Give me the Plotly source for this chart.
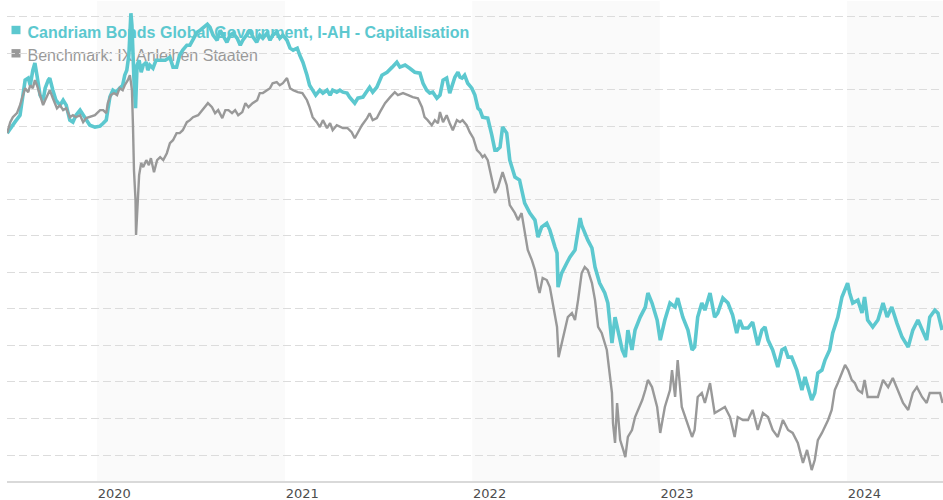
import plotly.graph_objects as go

# ---------------- data (performance, %) ----------------
fund_name = "Candriam Bonds Global Government, I-AH - Capitalisation"
bench_name = "Benchmark: IX Anleihen Staaten"

fund_dates = [
    "2019-07-10", "2019-07-16", "2019-07-25", "2019-08-04", "2019-08-10", "2019-08-14", "2019-08-20",
    "2019-08-24", "2019-08-29", "2019-09-02", "2019-09-06", "2019-09-12", "2019-09-18", "2019-09-22",
    "2019-09-28", "2019-10-01", "2019-10-07", "2019-10-13", "2019-10-21", "2019-10-27", "2019-11-02",
    "2019-11-09", "2019-11-15", "2019-11-21", "2019-11-29", "2019-12-05", "2019-12-11", "2019-12-18",
    "2019-12-28", "2020-01-07", "2020-01-13", "2020-01-19", "2020-01-22", "2020-01-26", "2020-02-01",
    "2020-02-07", "2020-02-14", "2020-02-20", "2020-02-24", "2020-02-28", "2020-03-03", "2020-03-05",
    "2020-03-07", "2020-03-09", "2020-03-11", "2020-03-13", "2020-03-16", "2020-03-17", "2020-03-19",
    "2020-03-23", "2020-03-27", "2020-03-31", "2020-04-06", "2020-04-09", "2020-04-13", "2020-04-19",
    "2020-04-25", "2020-05-03", "2020-05-13", "2020-05-22", "2020-05-28", "2020-06-04", "2020-06-10",
    "2020-06-16", "2020-06-24", "2020-06-30", "2020-07-06", "2020-07-14", "2020-07-20", "2020-07-26",
    "2020-08-03", "2020-08-08", "2020-08-14", "2020-08-22", "2020-08-28", "2020-09-02", "2020-09-10",
    "2020-09-16", "2020-09-22", "2020-09-30", "2020-10-06", "2020-10-11", "2020-10-19", "2020-10-25",
    "2020-10-31", "2020-11-07", "2020-11-13", "2020-11-19", "2020-11-27", "2020-12-03", "2020-12-08",
    "2020-12-16", "2020-12-22", "2020-12-28", "2021-01-05", "2021-01-11", "2021-01-17", "2021-01-25",
    "2021-01-30", "2021-02-05", "2021-02-13", "2021-02-18", "2021-02-24", "2021-03-02", "2021-03-10",
    "2021-03-16", "2021-03-24", "2021-03-30", "2021-04-04", "2021-04-12", "2021-04-18", "2021-04-24",
    "2021-05-02", "2021-05-07", "2021-05-17", "2021-05-23", "2021-06-02", "2021-06-10", "2021-06-15",
    "2021-06-21", "2021-06-29", "2021-07-09", "2021-07-19", "2021-07-29", "2021-08-07", "2021-08-13",
    "2021-08-23", "2021-09-01", "2021-09-11", "2021-09-21", "2021-09-27", "2021-10-04", "2021-10-10",
    "2021-10-16", "2021-10-24", "2021-10-30", "2021-11-05", "2021-11-12", "2021-11-18", "2021-11-28",
    "2021-12-04", "2021-12-08", "2021-12-12", "2021-12-17", "2021-12-23", "2021-12-31", "2022-01-03",
    "2022-01-06", "2022-01-12", "2022-01-16", "2022-01-21", "2022-01-31", "2022-02-08", "2022-02-14",
    "2022-02-18", "2022-02-24", "2022-03-01", "2022-03-09", "2022-03-15", "2022-03-25", "2022-04-03",
    "2022-04-13", "2022-04-23", "2022-05-03", "2022-05-09", "2022-05-16", "2022-05-26", "2022-06-01",
    "2022-06-11", "2022-06-15", "2022-06-17", "2022-06-24", "2022-07-04", "2022-07-10", "2022-07-20",
    "2022-07-30", "2022-08-02", "2022-08-08", "2022-08-14", "2022-08-22", "2022-08-28", "2022-09-06",
    "2022-09-16", "2022-09-22", "2022-09-30", "2022-10-06", "2022-10-12", "2022-10-20", "2022-10-26",
    "2022-10-31", "2022-11-08", "2022-11-14", "2022-11-24", "2022-12-04", "2022-12-09", "2022-12-17",
    "2022-12-27", "2023-01-02", "2023-01-11", "2023-01-21", "2023-01-31", "2023-02-05", "2023-02-15",
    "2023-02-25", "2023-03-05", "2023-03-10", "2023-03-16", "2023-03-24", "2023-03-30", "2023-04-09",
    "2023-04-18", "2023-04-24", "2023-05-04", "2023-05-14", "2023-05-23", "2023-05-31", "2023-06-06",
    "2023-06-12", "2023-06-22", "2023-07-01", "2023-07-11", "2023-07-19", "2023-07-25", "2023-07-31",
    "2023-08-09", "2023-08-19", "2023-08-27", "2023-09-02", "2023-09-08", "2023-09-15", "2023-09-25",
    "2023-10-05", "2023-10-11", "2023-10-17", "2023-10-24", "2023-10-30", "2023-11-05", "2023-11-13",
    "2023-11-19", "2023-11-28", "2023-12-04", "2023-12-14", "2023-12-22", "2024-01-02", "2024-01-06",
    "2024-01-12", "2024-01-22", "2024-01-30", "2024-02-04", "2024-02-10", "2024-02-20", "2024-03-01",
    "2024-03-11", "2024-03-19", "2024-03-28", "2024-04-07", "2024-04-17", "2024-04-29", "2024-05-08",
    "2024-05-18", "2024-05-28", "2024-06-04", "2024-06-10", "2024-06-20", "2024-06-26", "2024-07-04",
]
fund_values = [
    -0.38, -0.11, 0.22, 0.60, 1.70, 2.52, 2.63,
    2.24, 3.06, 3.45, 2.79, 1.70, 1.42, 2.08,
    2.52, 2.63, 1.97, 1.42, 1.15, 1.42, 1.15,
    0.33, 0.22, 0.60, 0.88, 0.60, 0.33, 0.05,
    -0.05, 0.00, 0.16, 0.33, 0.88, 1.59, 1.97,
    1.86, 2.08, 2.24, 2.79, 3.06, 3.88, 5.25,
    6.18, 5.52, 3.61, 2.52, 0.98, 1.97, 3.34,
    3.61, 2.95, 3.34, 3.50, 3.06, 3.34, 3.17,
    3.61, 3.61, 3.61, 3.77, 3.23, 3.23, 3.88,
    4.16, 4.43, 4.43, 4.70, 5.14, 5.25, 5.42,
    5.58, 5.42, 4.98, 4.70, 5.25, 4.98, 4.59,
    4.98, 5.09, 4.81, 4.43, 4.70, 4.98, 5.25,
    4.87, 4.59, 4.98, 4.81, 5.09, 4.70, 4.98,
    5.14, 4.81, 4.98, 4.70, 4.27, 4.16, 4.27,
    3.88, 3.50, 2.79, 2.24, 1.97, 1.70, 1.97,
    1.81, 1.97, 1.70, 1.97, 1.86, 1.97, 1.86,
    1.81, 1.59, 1.26, 1.53, 1.59, 1.97, 2.13,
    1.86, 2.13, 2.79, 2.95, 3.23, 3.50, 3.23,
    3.34, 3.17, 2.95, 2.90, 2.35, 1.97, 1.81,
    1.86, 1.53, 1.70, 2.52, 2.63, 1.81, 2.68,
    2.95, 2.68, 2.63, 2.79, 2.35, 2.08, 1.81,
    1.70, 0.98, 0.88, 0.49, 0.44, -0.49, -1.31,
    -1.31, -1.15, -0.05, -0.38, -1.86, -2.79, -2.95,
    -4.21, -4.76, -5.14, -6.07, -5.52, -5.31, -5.69,
    -6.62, -6.95, -8.81, -8.04, -7.49, -7.17, -6.78,
    -5.03, -5.42, -5.85, -6.24, -6.67, -7.71, -8.59,
    -9.13, -9.68, -11.87, -10.45, -11.32, -12.25, -12.64,
    -11.16, -12.25, -11.16, -10.45, -9.90, -9.13, -9.68,
    -10.61, -11.71, -10.61, -9.68, -9.90, -9.41, -10.45,
    -11.16, -12.25, -12.09, -10.45, -9.68, -10.07, -9.13,
    -10.45, -10.23, -9.41, -9.68, -10.34, -11.32, -10.61,
    -11.05, -11.05, -10.72, -11.98, -11.16, -10.99, -11.71,
    -12.25, -13.18, -12.25, -12.15, -12.64, -12.64, -13.35,
    -14.44, -13.73, -14.28, -14.99, -14.60, -13.51, -13.35,
    -12.80, -12.25, -11.32, -10.45, -9.35, -8.59, -9.13,
    -9.68, -9.52, -10.23, -9.35, -10.61, -10.99, -10.61,
    -9.68, -10.45, -9.90, -10.78, -11.54, -12.09, -11.16,
    -10.61, -11.32, -11.71, -10.45, -10.07, -10.23, -11.16,
]

bench_dates = [
    "2019-07-10", "2019-07-16", "2019-07-21", "2019-07-29", "2019-08-04", "2019-08-10", "2019-08-14",
    "2019-08-20", "2019-08-24", "2019-08-29", "2019-09-02", "2019-09-06", "2019-09-12", "2019-09-18",
    "2019-09-22", "2019-09-28", "2019-10-01", "2019-10-07", "2019-10-15", "2019-10-21", "2019-10-27",
    "2019-11-02", "2019-11-09", "2019-11-15", "2019-11-21", "2019-11-29", "2019-12-05", "2019-12-11",
    "2019-12-18", "2019-12-28", "2020-01-07", "2020-01-13", "2020-01-19", "2020-01-22", "2020-01-28",
    "2020-02-03", "2020-02-09", "2020-02-14", "2020-02-20", "2020-02-24", "2020-03-01", "2020-03-05",
    "2020-03-07", "2020-03-09", "2020-03-11", "2020-03-13", "2020-03-16", "2020-03-17", "2020-03-19",
    "2020-03-21", "2020-03-23", "2020-03-27", "2020-03-31", "2020-04-06", "2020-04-11", "2020-04-15",
    "2020-04-21", "2020-04-27", "2020-05-03", "2020-05-09", "2020-05-16", "2020-05-22", "2020-05-28",
    "2020-06-04", "2020-06-10", "2020-06-16", "2020-06-24", "2020-06-30", "2020-07-06", "2020-07-16",
    "2020-07-24", "2020-07-30", "2020-08-04", "2020-08-12", "2020-08-18", "2020-08-24", "2020-09-01",
    "2020-09-07", "2020-09-13", "2020-09-20", "2020-09-26", "2020-10-02", "2020-10-10", "2020-10-16",
    "2020-10-22", "2020-10-30", "2020-11-08", "2020-11-13", "2020-11-19", "2020-11-27", "2020-12-03",
    "2020-12-08", "2020-12-16", "2020-12-22", "2020-12-28", "2021-01-05", "2021-01-11", "2021-01-17",
    "2021-01-26", "2021-02-04", "2021-02-13", "2021-02-18", "2021-02-24", "2021-03-04", "2021-03-10",
    "2021-03-16", "2021-03-24", "2021-03-30", "2021-04-04", "2021-04-12", "2021-04-18", "2021-04-24",
    "2021-05-03", "2021-05-11", "2021-05-17", "2021-05-23", "2021-05-31", "2021-06-10", "2021-06-15",
    "2021-06-21", "2021-06-29", "2021-07-05", "2021-07-15", "2021-07-25", "2021-08-03", "2021-08-09",
    "2021-08-19", "2021-08-29", "2021-09-07", "2021-09-17", "2021-09-25", "2021-09-30", "2021-10-06",
    "2021-10-14", "2021-10-20", "2021-10-26", "2021-10-30", "2021-11-05", "2021-11-12", "2021-11-18",
    "2021-11-24", "2021-12-02", "2021-12-08", "2021-12-13", "2021-12-21", "2021-12-27", "2022-01-03",
    "2022-01-10", "2022-01-16", "2022-01-21", "2022-01-25", "2022-01-31", "2022-02-08", "2022-02-14",
    "2022-02-20", "2022-03-01", "2022-03-09", "2022-03-15", "2022-03-25", "2022-03-31", "2022-04-07",
    "2022-04-13", "2022-04-19", "2022-04-27", "2022-05-03", "2022-05-09", "2022-05-12", "2022-05-18",
    "2022-05-26", "2022-06-01", "2022-06-07", "2022-06-15", "2022-06-18", "2022-06-24", "2022-06-30",
    "2022-07-06", "2022-07-14", "2022-07-20", "2022-07-26", "2022-08-02", "2022-08-08", "2022-08-14",
    "2022-08-22", "2022-08-28", "2022-09-03", "2022-09-10", "2022-09-20", "2022-09-26", "2022-09-30",
    "2022-10-02", "2022-10-06", "2022-10-10", "2022-10-16", "2022-10-22", "2022-10-26", "2022-10-31",
    "2022-11-08", "2022-11-14", "2022-11-20", "2022-11-28", "2022-12-04", "2022-12-09", "2022-12-17",
    "2022-12-27", "2023-01-02", "2023-01-11", "2023-01-21", "2023-01-25", "2023-01-31", "2023-02-05",
    "2023-02-13", "2023-02-23", "2023-03-05", "2023-03-10", "2023-03-16", "2023-03-24", "2023-03-30",
    "2023-04-09", "2023-04-18", "2023-04-28", "2023-05-08", "2023-05-18", "2023-05-27", "2023-06-02",
    "2023-06-12", "2023-06-22", "2023-07-01", "2023-07-11", "2023-07-21", "2023-07-31", "2023-08-09",
    "2023-08-19", "2023-08-29", "2023-09-08", "2023-09-17", "2023-09-27", "2023-10-07", "2023-10-15",
    "2023-10-20", "2023-10-24", "2023-10-30", "2023-11-05", "2023-11-13", "2023-11-19", "2023-11-25",
    "2023-12-02", "2023-12-08", "2023-12-14", "2023-12-22", "2023-12-28", "2024-01-03", "2024-01-10",
    "2024-01-16", "2024-01-22", "2024-01-30", "2024-02-04", "2024-02-10", "2024-02-20", "2024-03-01",
    "2024-03-11", "2024-03-21", "2024-03-30", "2024-04-09", "2024-04-19", "2024-04-29", "2024-05-08",
    "2024-05-16", "2024-05-26", "2024-06-04", "2024-06-10", "2024-06-20", "2024-06-30", "2024-07-05",
]
bench_values = [
    -0.38, 0.22, 0.49, 0.71, 1.15, 1.70, 2.08,
    1.86, 2.24, 2.08, 2.52, 2.24, 1.70, 1.15,
    1.42, 1.86, 1.97, 1.53, 0.98, 1.15, 0.88,
    0.98, 0.49, 0.60, 0.49, 0.60, 0.22, 0.44,
    0.49, 0.60, 0.88, 0.88, 0.71, 1.26, 1.70,
    1.81, 1.70, 2.08, 1.97, 2.24, 2.52, 2.79,
    2.41, 1.97, 0.05, -2.41, -4.05, -5.96, -4.87,
    -3.50, -2.68, -2.02, -2.24, -1.86, -2.13, -1.75,
    -2.52, -1.86, -1.70, -1.86, -1.48, -0.93, -0.77,
    -0.38, -0.38, -0.22, 0.22, 0.33, 0.49, 0.60,
    0.88, 1.04, 1.26, 1.04, 0.71, 0.88, 0.44,
    0.88, 0.88, 0.71, 0.88, 0.60, 0.77, 1.26,
    1.04, 1.26, 1.42, 1.81, 1.81, 1.97, 2.08,
    2.35, 2.41, 2.24, 2.35, 2.63, 2.08, 1.97,
    1.86, 1.81, 1.42, 1.04, 0.49, 0.22, -0.05,
    0.33, -0.11, 0.16, -0.22, 0.05, -0.05, -0.11,
    -0.11, -0.33, -0.66, -0.33, 0.05, 0.44, 0.71,
    0.33, 0.44, 0.77, 1.26, 1.59, 1.86, 1.70,
    1.81, 1.70, 1.59, 1.53, 1.04, 0.49, 0.33,
    0.05, 0.33, 0.16, 0.77, 0.22, 0.60, 0.16,
    -0.22, 0.33, 0.22, 0.33, 0.05, -0.33, -0.66,
    -1.31, -1.48, -1.70, -1.59, -1.86, -2.95, -3.66,
    -3.34, -2.52, -3.23, -4.32, -4.76, -5.14, -4.76,
    -5.85, -6.78, -7.33, -7.88, -8.81, -9.13, -8.31,
    -8.42, -8.81, -9.68, -10.99, -12.64, -11.87, -11.16,
    -10.45, -10.23, -10.61, -9.52, -8.04, -7.71, -7.88,
    -8.59, -9.52, -10.99, -11.32, -12.25, -13.51, -14.60,
    -16.25, -17.34, -15.15, -17.18, -17.72, -18.11, -17.01,
    -16.63, -15.92, -15.53, -14.99, -14.44, -13.89, -14.28,
    -15.37, -16.79, -15.37, -14.44, -13.35, -14.82, -12.80,
    -15.37, -16.25, -17.01, -16.63, -14.82, -14.60, -15.15,
    -14.06, -15.70, -15.53, -15.37, -15.92, -17.01, -15.92,
    -16.08, -16.08, -15.53, -16.63, -15.70, -15.92, -16.63,
    -17.01, -16.08, -16.63, -16.79, -17.34, -18.43, -17.72,
    -18.43, -18.82, -18.27, -17.18, -16.79, -16.46, -16.08,
    -15.53, -14.44, -14.06, -13.51, -13.07, -13.35, -13.89,
    -14.06, -14.44, -14.60, -13.89, -14.82, -14.82, -14.82,
    -13.89, -14.28, -13.78, -14.44, -15.15, -15.53, -14.60,
    -14.28, -14.82, -15.15, -14.60, -14.60, -14.60, -15.15,
]

tick_years = [2020, 2021, 2022, 2023, 2024]
shaded_years = [2020, 2022, 2024]
grid_values = [6, 4, 2, 0, -2, -4, -6, -8, -10, -12, -14, -16, -18]

# ---------------- styling ----------------
W, H = 943, 500
M_L, M_R, M_T, M_B = 7, 0, 1, 19
PW, PH = W - M_L - M_R, H - M_T - M_B
TEAL = "#5cc8cf"
GREY = "#999999"


def px_x(p):
    return (p - M_L) / PW


def px_y(p):
    return 1 - (p - M_T) / PH


fig = go.Figure()
fig.add_trace(go.Scatter(x=fund_dates, y=fund_values, mode="lines", name=fund_name,
                         line=dict(color=TEAL, width=3.6), hoverinfo="skip"))
fig.add_trace(go.Scatter(x=bench_dates, y=bench_values, mode="lines", name=bench_name,
                         line=dict(color=GREY, width=2.4), hoverinfo="skip"))

shapes = []
for yr in shaded_years:
    shapes.append(dict(type="rect", xref="x", yref="paper", x0=f"{yr}-01-01", x1=f"{yr + 1}-01-01",
                       y0=0, y1=1, fillcolor="#fafafa", line=dict(width=0), layer="below"))

# legend (drawn between grid and lines, like the original)
legend_items = [(fund_name, TEAL, True, 30), (bench_name, GREY, False, 53.3)]
for text, col, bold, cy in legend_items:
    shapes.append(dict(type="rect", xref="paper", yref="paper",
                       x0=px_x(11.5), x1=px_x(20.5), y0=px_y(cy + 4.2), y1=px_y(cy - 4.2),
                       fillcolor=col, line=dict(width=0), layer="between"))
    shapes.append(dict(type="rect", xref="paper", yref="paper",
                       x0=px_x(21.5), x1=px_x(700), y0=px_y(cy + 10), y1=px_y(cy - 10),
                       fillcolor="rgba(0,0,0,0)", line=dict(width=0), layer="between",
                       label=dict(text=(f"<b>{text}</b>" if bold else text),
                                  textposition="middle left",
                                  font=dict(family="Liberation Sans, Arial, sans-serif",
                                            size=16, color=col))))

fig.update_layout(
    width=W, height=H, autosize=False,
    margin=dict(l=M_L, r=M_R, t=M_T, b=M_B, pad=0),
    paper_bgcolor="white", plot_bgcolor="white",
    showlegend=False, shapes=shapes,
    xaxis=dict(
        type="date", range=["2019-07-09 16:00", "2024-07-05 19:00"],
        tickvals=[f"{y}-01-01" for y in tick_years], ticktext=[str(y) for y in tick_years],
        ticks="", showgrid=False, zeroline=False,
        showline=True, linecolor="#d9d9d9", linewidth=1.5,
        ticklabelposition="outside right",
        tickfont=dict(family="DejaVu Sans, Verdana, sans-serif", size=13, color="#4d4d4d"),
    ),
    yaxis=dict(
        range=[-19.42, 6.85], tickvals=grid_values, showticklabels=False, ticks="",
        showgrid=True, gridcolor="#dcdcdc", gridwidth=1, griddash="8px,4px",
        zeroline=False, showline=False,
    ),
)

fig.write_html("out.html", config={"displayModeBar": False},
               post_script="document.body.style.margin='0';")
